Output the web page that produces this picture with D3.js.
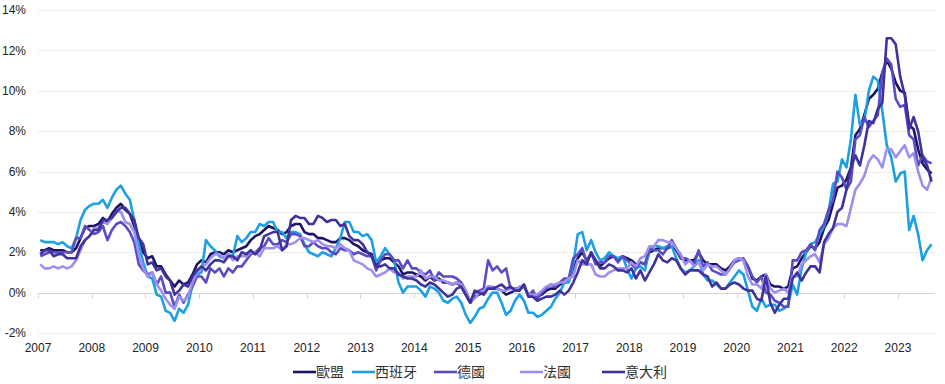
<!DOCTYPE html>
<html>
<head>
<meta charset="utf-8">
<style>
body { margin: 0; background: #fff; }
svg { display: block; }
.tick-label { font-family: "Liberation Sans", Arial, sans-serif; font-size: 12px; fill: #222; }
.legend-label { font-family: "Noto Sans CJK TC", sans-serif; font-size: 14px; fill: #333; }
</style>
</head>
<body>
<svg id="chart" width="945" height="384"></svg>
<script src="https://cdn.jsdelivr.net/npm/d3@7"></script>
<script>
// categories / ticks
var names = ["歐盟", "西班牙", "德國", "法國", "意大利"]
var colors = ["#1b1464", "#1ca0e3", "#5a4cc2", "#9d8ef0", "#40329c"]
var years = d3.range(2007, 2024)
var yTicks = [-2, 0, 2, 4, 6, 8, 10, 12, 14]
var firstMonth = 2007   // Jan 2007, monthly to Aug 2023

// monthly inflation, %
var eu = [
  2.1, 2.1, 2.2, 2.1, 2.1, 2.1, 2.0, 2.0, 2.2, 2.7, 3.2, 3.3,
  3.3, 3.4, 3.7, 3.5, 3.9, 4.2, 4.4, 4.1, 3.9, 3.3, 2.6, 2.0,
  1.7, 1.8, 1.3, 1.3, 0.9, 0.6, 0.3, 0.6, 0.4, 0.5, 0.9, 1.4,
  1.6, 1.5, 1.9, 2.0, 2.0, 1.9, 2.1, 2.0, 2.1, 2.2, 2.3, 2.6,
  2.8, 2.9, 3.1, 3.3, 3.2, 3.1, 2.9, 3.0, 3.3, 3.4, 3.4, 3.0,
  2.9, 2.9, 2.7, 2.7, 2.6, 2.5, 2.5, 2.7, 2.7, 2.6, 2.4, 2.3,
  2.1, 2.0, 1.9, 1.3, 1.6, 1.7, 1.7, 1.5, 1.3, 0.9, 1.0, 1.0,
  0.9, 0.8, 0.6, 0.8, 0.6, 0.7, 0.5, 0.5, 0.4, 0.5, 0.3, -0.1,
  -0.5, -0.2, -0.1, 0.0, 0.3, 0.2, 0.2, 0.1, -0.1, 0.0, 0.1, 0.2,
  0.3, -0.1, 0.0, -0.2, -0.1, 0.1, 0.2, 0.2, 0.4, 0.5, 0.6, 1.2,
  1.7, 2.0, 1.6, 1.9, 1.6, 1.3, 1.5, 1.7, 1.8, 1.6, 1.8, 1.7,
  1.6, 1.4, 1.5, 1.4, 2.0, 2.1, 2.2, 2.2, 2.2, 2.3, 2.1, 1.7,
  1.6, 1.6, 1.6, 2.0, 1.6, 1.4, 1.4, 1.4, 1.2, 1.1, 1.3, 1.6,
  1.7, 1.6, 1.3, 0.7, 0.6, 0.8, 0.9, 0.4, 0.3, 0.3, 0.2, 0.3,
  1.2, 1.3, 1.7, 2.0, 2.3, 2.2, 2.5, 3.2, 3.6, 4.4, 5.2, 5.3,
  5.6, 6.2, 7.8, 8.1, 8.8, 9.6, 9.8, 10.1, 10.9, 11.5, 11.1, 10.4,
  10.0, 9.9, 8.3, 8.1, 7.1, 6.4, 6.1, 5.9
]
var spain = [
  2.6, 2.5, 2.5, 2.5, 2.4, 2.5, 2.3, 2.2, 2.7, 3.6, 4.1, 4.3,
  4.4, 4.4, 4.6, 4.2, 4.7, 5.1, 5.3, 4.9, 4.6, 3.6, 2.4, 1.5,
  0.8, 0.7, -0.1, -0.2, -0.9, -1.0, -1.4, -0.8, -1.0, -0.6, 0.4, 0.9,
  1.0, 2.6, 2.3, 2.1, 1.8, 1.7, 1.9, 1.8, 2.8, 2.5, 2.7, 3.0,
  3.0, 3.4, 3.3, 3.5, 3.5, 3.0, 3.0, 2.7, 3.0, 3.0, 2.9, 2.4,
  2.0, 1.9, 1.8, 2.0, 1.9, 1.8, 2.2, 2.7, 3.5, 3.5, 3.0, 3.0,
  2.8, 2.9, 2.6, 1.5, 1.8, 2.2, 1.9, 1.6, 0.5, 0.0, 0.3, 0.3,
  0.3, 0.1, -0.2, 0.3, 0.2, 0.0, -0.4, -0.5, -0.3, -0.2, -0.5, -1.1,
  -1.5, -1.2, -0.8, -0.7, -0.3, 0.0, 0.0, -0.5, -1.1, -0.9, -0.4, -0.1,
  -0.4, -1.0, -1.0, -1.2, -1.1, -0.9, -0.7, -0.3, 0.0, 0.5, 0.5, 1.4,
  2.9, 3.0, 2.1, 2.6, 2.0, 1.6, 1.7, 2.0, 1.8, 1.7, 1.8, 1.2,
  0.7, 1.2, 1.3, 1.1, 2.1, 2.3, 2.3, 2.2, 2.3, 2.3, 1.7, 1.2,
  1.0, 1.1, 1.3, 1.6, 0.9, 0.6, 0.6, 0.4, 0.2, 0.2, 0.5, 0.8,
  1.1, 0.9, 0.1, -0.7, -0.9, -0.3, -0.7, -0.6, -0.6, -0.9, -0.8, -0.6,
  0.4, -0.1, 1.2, 2.0, 2.4, 2.5, 2.9, 3.3, 4.0, 5.4, 5.5, 6.6,
  6.2, 7.6, 9.8, 8.3, 8.5, 10.0, 10.7, 10.5, 9.0, 7.3, 6.7, 5.5,
  5.9, 6.0, 3.1, 3.8, 2.9, 1.6, 2.1, 2.4
]
var germany = [
  1.8, 1.9, 2.0, 2.0, 2.0, 2.0, 2.0, 2.0, 2.7, 2.7, 3.3, 3.1,
  2.9, 3.0, 3.3, 2.6, 3.1, 3.4, 3.5, 3.3, 3.0, 2.5, 1.4, 1.1,
  0.9, 1.0, 0.4, 0.8, 0.0, 0.0, -0.7, -0.1, -0.5, -0.1, 0.3, 0.8,
  0.8, 0.5, 1.2, 1.0, 1.2, 0.8, 1.2, 1.0, 1.3, 1.3, 1.6, 1.9,
  2.0, 2.2, 2.3, 2.7, 2.4, 2.4, 2.6, 2.5, 2.9, 2.9, 2.8, 2.3,
  2.3, 2.5, 2.3, 2.2, 2.2, 2.0, 1.9, 2.2, 2.1, 2.1, 1.9, 2.0,
  1.9, 1.8, 1.8, 1.1, 1.6, 1.9, 1.9, 1.6, 1.6, 1.2, 1.6, 1.2,
  1.2, 1.0, 0.9, 1.1, 0.6, 1.0, 0.8, 0.8, 0.8, 0.7, 0.5, 0.1,
  -0.5, 0.0, 0.1, 0.2, 1.6, 1.1, 1.3, 1.0, 1.2, 0.2, 0.2, 0.2,
  0.4, -0.2, 0.1, -0.3, 0.0, 0.2, 0.4, 0.3, 0.5, 0.7, 0.7, 1.7,
  1.9, 2.2, 1.5, 2.0, 1.4, 1.5, 1.5, 1.8, 1.8, 1.5, 1.8, 1.6,
  1.4, 1.2, 1.5, 1.4, 2.2, 2.1, 2.1, 1.9, 2.2, 2.6, 2.2, 1.7,
  1.7, 1.6, 1.4, 2.1, 1.3, 1.5, 1.1, 1.0, 0.9, 0.9, 1.2, 1.5,
  1.6, 1.7, 1.3, 0.8, 0.5, 0.8, 0.0, -0.1, -0.4, -0.5, -0.7, -0.7,
  1.6, 1.6, 2.0, 2.1, 2.4, 2.1, 3.1, 3.4, 4.1, 4.6, 6.0, 5.7,
  5.1, 5.5, 7.6, 7.8, 8.7, 8.2, 8.5, 8.8, 10.9, 11.6, 11.3, 9.6,
  9.2, 9.3, 7.8, 7.6, 6.3, 6.8, 6.5, 6.4
]
var france = [
  1.4, 1.2, 1.2, 1.3, 1.2, 1.3, 1.2, 1.3, 1.6, 2.1, 2.6, 2.8,
  3.2, 3.2, 3.5, 3.4, 3.7, 4.0, 4.0, 3.5, 3.4, 3.0, 1.9, 1.2,
  0.8, 1.0, 0.4, 0.1, -0.3, -0.6, -0.8, -0.2, -0.4, -0.2, 0.5, 1.0,
  1.2, 1.4, 1.7, 1.9, 1.9, 1.7, 1.9, 1.6, 1.8, 1.8, 1.8, 2.0,
  2.0, 1.8, 2.2, 2.2, 2.2, 2.3, 2.1, 2.4, 2.4, 2.5, 2.7, 2.7,
  2.6, 2.5, 2.6, 2.4, 2.3, 2.3, 2.2, 2.4, 2.2, 2.1, 1.6, 1.5,
  1.4, 1.2, 1.1, 0.8, 0.9, 1.0, 1.2, 1.0, 1.0, 0.7, 0.8, 0.8,
  0.8, 1.1, 0.7, 0.8, 0.8, 0.6, 0.6, 0.5, 0.4, 0.5, 0.4, 0.1,
  -0.4, -0.3, 0.0, 0.1, 0.3, 0.3, 0.2, 0.1, 0.1, 0.2, 0.1, 0.3,
  0.3, -0.1, -0.1, -0.1, 0.1, 0.3, 0.4, 0.4, 0.5, 0.5, 0.7, 0.8,
  1.6, 1.4, 1.4, 1.4, 0.9, 0.8, 0.8, 1.0, 1.1, 1.2, 1.2, 1.2,
  1.5, 1.3, 1.7, 1.8, 2.3, 2.3, 2.6, 2.6, 2.5, 2.5, 2.2, 1.9,
  1.4, 1.6, 1.3, 1.5, 1.1, 1.4, 1.3, 1.3, 1.1, 0.9, 1.2, 1.6,
  1.7, 1.6, 0.8, 0.4, 0.4, 0.2, 0.9, 0.2, 0.0, 0.1, 0.2, 0.0,
  0.8, 0.8, 1.4, 1.6, 1.8, 1.9, 1.5, 2.4, 2.7, 3.2, 3.4, 3.4,
  3.3, 4.2, 5.1, 5.4, 5.8, 6.5, 6.8, 6.6, 6.2, 7.1, 7.1, 6.7,
  7.0, 7.3, 6.7, 6.9, 6.0, 5.3, 5.1, 5.7
]
var italy = [
  1.9, 2.1, 2.1, 1.8, 1.9, 1.9, 1.7, 1.7, 1.7, 2.3, 2.6, 2.8,
  3.1, 3.1, 3.6, 3.6, 3.7, 4.0, 4.2, 4.2, 3.9, 3.6, 2.7, 2.4,
  1.4, 1.5, 1.1, 1.2, 0.8, 0.6, -0.1, 0.1, 0.4, 0.3, 0.8, 1.1,
  1.3, 1.1, 1.4, 1.6, 1.6, 1.5, 1.8, 1.8, 1.6, 2.0, 1.9, 2.1,
  1.9, 2.1, 2.8, 2.9, 3.0, 3.0, 2.1, 2.3, 3.6, 3.8, 3.7, 3.7,
  3.4, 3.4, 3.8, 3.7, 3.5, 3.6, 3.6, 3.3, 3.4, 2.8, 2.6, 2.6,
  2.4, 2.0, 1.8, 1.3, 1.3, 1.4, 1.2, 1.2, 0.9, 0.8, 0.7, 0.7,
  0.6, 0.4, 0.3, 0.5, 0.4, 0.2, 0.0, -0.2, -0.1, 0.2, 0.3, -0.1,
  -0.5, 0.1, 0.0, -0.1, 0.2, 0.2, 0.3, 0.4, 0.2, 0.3, 0.1, 0.1,
  0.4, -0.2, -0.2, -0.4, -0.3, -0.2, -0.2, -0.1, 0.1, -0.1, 0.1, 0.5,
  1.0, 1.6, 1.4, 2.0, 1.6, 1.2, 1.2, 1.4, 1.3, 1.1, 1.1, 1.0,
  1.2, 0.7, 1.1, 0.6, 1.0, 1.4, 1.9, 1.6, 1.5, 1.7, 1.6, 1.2,
  0.9, 1.1, 1.1, 1.1, 0.9, 0.8, 0.3, 0.5, 0.2, 0.2, 0.4, 0.5,
  0.4, 0.2, 0.1, 0.1, -0.3, -0.4, 0.8, -0.5, -1.0, -0.6, -0.3, -0.3,
  0.7, 1.0, 0.6, 1.0, 1.3, 1.3, 1.0, 2.5, 2.9, 3.2, 4.0, 4.2,
  5.1, 6.2, 6.8, 6.3, 7.3, 8.5, 8.4, 9.1, 9.4, 12.6, 12.6, 12.3,
  10.7, 9.8, 8.1, 8.7, 8.0, 6.7, 6.3, 5.5
]
var series = [eu, spain, germany, france, italy]

// layout
var svg = d3.select("#chart")
var legendX = [293, 352, 434, 520, 602]
var nMonths = eu.length

var x = d3.scaleLinear()
  .domain([firstMonth, firstMonth + nMonths / 12])
  .range([38, 933.8])
var y = d3.scaleLinear().domain([-2, 14]).range([333, 10])

// gridlines
svg.append("g")
  .selectAll("line")
  .data(yTicks)
  .join("line")
  .attr("x1", 38).attr("x2", 935)
  .attr("y1", function(d) { return Math.round(y(d)) + 0.5 })
  .attr("y2", function(d) { return Math.round(y(d)) + 0.5 })
  .attr("stroke", function(d) { return d === 0 ? "#d4d4d4" : "#ececec" })
  .attr("stroke-width", 1)

// y labels
svg.append("g")
  .selectAll("text")
  .data(yTicks)
  .join("text")
  .attr("class", "tick-label")
  .attr("x", 26)
  .attr("y", function(d) { return y(d) })
  .attr("dy", "0.35em")
  .attr("text-anchor", "end")
  .text(function(d) { return d + "%" })

// x ticks on the zero line
var y0 = Math.round(y(0)) + 0.5
svg.append("g")
  .selectAll("line")
  .data(years)
  .join("line")
  .attr("x1", function(d) { return Math.round(x(d)) + 0.5 })
  .attr("x2", function(d) { return Math.round(x(d)) + 0.5 })
  .attr("y1", y0).attr("y2", y0 + 5)
  .attr("stroke", "#d4d4d4")

svg.append("g")
  .selectAll("text")
  .data(years)
  .join("text")
  .attr("class", "tick-label")
  .attr("x", function(d) { return x(d) })
  .attr("y", 352)
  .attr("text-anchor", "middle")
  .text(function(d) { return d })

// lines
var line = d3.line()
  .x(function(d, i) { return x(firstMonth + (i + 0.5) / 12) })
  .y(function(d) { return y(d) })

svg.append("g")
  .selectAll("path")
  .data(series)
  .join("path")
  .attr("d", line)
  .attr("fill", "none")
  .attr("stroke", function(d, i) { return colors[i] })
  .attr("stroke-width", 2.6)
  .attr("stroke-linejoin", "round")

// legend
var legend = svg.append("g")
  .selectAll("g")
  .data(names)
  .join("g")
  .attr("transform", function(d, i) { return "translate(" + legendX[i] + ",372)" })

legend.append("line")
  .attr("x1", 0).attr("x2", 23)
  .attr("stroke", function(d, i) { return colors[i] })
  .attr("stroke-width", 2.6)

legend.append("text")
  .attr("class", "legend-label")
  .attr("x", 23)
  .attr("dy", "0.36em")
  .text(function(d) { return d })
</script>
</body>
</html>
